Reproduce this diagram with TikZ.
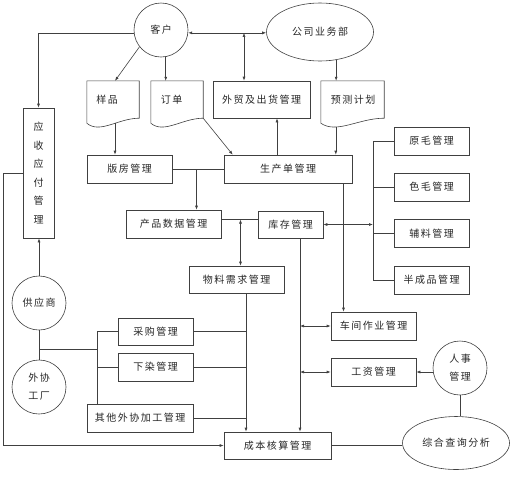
\documentclass[tikz,border=0pt]{standalone}
\usepackage{fontspec}
\newfontfamily\cjk[LetterSpace=15]{Noto Sans CJK SC}
\usetikzlibrary{arrows.meta,calc,shapes.geometric}
\begin{document}
\begin{tikzpicture}[x=1pt,y=-1pt,
  box/.style={draw=black!75, line width=0.6pt, rectangle, inner sep=0pt, font=\cjk\fontsize{10}{18}\selectfont, text=black!85, align=center},
  rbox/.style={box, minimum width=75pt, minimum height=28pt},
  circ/.style={box, circle, minimum size=54pt},
  ell/.style={box, ellipse},
  docbase/.style={rectangle, inner sep=0pt, draw=none},
  txt/.style={font=\cjk\fontsize{10}{12}\selectfont, text=black!85, inner sep=0pt},
  ln/.style={draw=black!75, line width=0.6pt},
  arr/.style={ln, -{Latex[length=4pt,width=3pt]}},
  darr/.style={ln, {Latex[length=4pt,width=3pt]}-{Latex[length=4pt,width=3pt]}}]
\useasboundingbox (0,0) rectangle (510,480);

% nodes
\node[circ] (kh) at (161,30) {客户};
\node[ell, minimum width=107pt, minimum height=58pt] (gs) at (320,32) {公司业务部};
\node[docbase, minimum width=52pt, minimum height=37pt] (yp) at (113,99.5) {};
\node[docbase, minimum width=52pt, minimum height=37pt] (dd) at (177,99.5) {};
\node[docbase, minimum width=63pt, minimum height=37pt] (yc) at (352.5,99.5) {};
\foreach \n in {yp,dd,yc}
  \draw[ln] (\n.north west) -- (\n.north east) -- (\n.south east)
    .. controls ($(\n.south west)!0.6!(\n.south east)$) and ($(\n.south west)!0.25!(\n.south east)+(0,16)$)
    .. ($(\n.south west)+(0,5)$) -- cycle;
\node[txt] at (107,100) {样品};
\node[txt] at (171.5,100) {订单};
\node[txt] at (353,100) {预测计划};

\node[box, minimum width=97pt, minimum height=37pt] (wm) at (261.5,99.5) {外贸及出货管理};
\node[box, minimum width=85pt, minimum height=28pt] (bf) at (129.5,169) {版房管理};
\node[box, minimum width=128pt, minimum height=28pt] (sc) at (288,169) {生产单管理};
\node[rbox] (ym) at (431.5,141) {原毛管理};
\node[rbox] (sm) at (431.5,187) {色毛管理};
\node[rbox] (fl) at (431.5,233.5) {辅料管理};
\node[rbox] (bcp) at (431.5,280) {半成品管理};
\node[box, minimum width=95pt, minimum height=28pt] (cp) at (173.5,224) {产品数据管理};
\node[box, minimum width=65pt, minimum height=27pt] (kc) at (290.5,224.5) {库存管理};
\node[box, minimum width=95pt, minimum height=27pt] (wl) at (236.5,279.5) {物料需求管理};
\node[box, minimum width=85pt, minimum height=28pt] (cj) at (373.5,326) {车间作业管理};
\node[box, minimum width=85pt, minimum height=28pt] (gz) at (373.5,372) {工资管理};
\node[box, minimum width=75pt, minimum height=27pt] (cg) at (155.5,331.5) {采购管理};
\node[box, minimum width=75pt, minimum height=28pt] (xr) at (155.5,367) {下染管理};
\node[box, minimum width=106pt, minimum height=28pt] (qt) at (140,418) {其他外协加工管理};
\node[box, minimum width=107pt, minimum height=27pt] (cb) at (277.5,445.5) {成本核算管理};
\node[box, minimum width=31pt, minimum height=130pt, font=\cjk\fontsize{10}{18.5}\selectfont] (ysyf) at (38.5,173) {应\\收\\应\\付\\管\\理};
\node[circ] (gys) at (39,303) {供应商};
\node[circ] (wx) at (39,387) {外协\\工厂};
\node[circ] (rs) at (460,368) {人事\\管理};
\node[ell, minimum width=107pt, minimum height=53pt] (zh) at (456,443) {综合查询分析};

% helper coordinates
\coordinate (v1) at (244,0);
\coordinate (yb) at ($(yp.south)+(2,5)$);
\coordinate (ycb) at ($(yc.south west)+(15,9)$);
\coordinate (c1) at ($(sc.north)+(-11,0)$);
\coordinate (c2) at (196.5,169);
\coordinate (c3) at (343.5,0);
\coordinate (c4) at (0,219.5);
\coordinate (c5) at (240.5,219.5);
\coordinate (bus) at (373,0);
\coordinate (c6) at (300,0);
\coordinate (c7) at (246,0);
\coordinate (c8) at (97,349);
\coordinate (c9) at (3,0);

% connectors
\draw[arr] (kh.186) -| (ysyf.north);
\draw[darr] (kh.-6) -- (kh.-6 -| gs.west);
\draw[darr] (kh.-6 -| v1) -- (wm.north -| v1);
\draw[arr] (kh.218) -- ($(yp.north)+(2,0)$);
\draw[arr] (kh.-80) -- (kh.-80 |- dd.north);
\draw[arr] (dd.south east) -- ($(sc.north west)+(9,0)$);
\draw[arr] (yb) -- (yb |- bf.north);
\draw[arr] (gs.-60) -- (gs.-60 |- yc.north);
\draw[arr] (ycb) -- (ycb |- sc.north);
\draw[arr] (c1) -- (c1 |- wm.south);
\draw[ln] (bf.east) -- (sc.west);
\draw[arr] (c2) -- (c2 |- cp.north);
\draw[arr] (sc.south -| c3) -- (cj.north -| c3);
\draw[ln] (cp.east |- c4) -- (kc.west |- c4);
\draw[darr] (c5) -- (c5 |- wl.north);
\draw[ln] (ym.west -| bus) -- (bcp.west -| bus);
\foreach \n in {ym,sm,fl,bcp} \draw[ln] (\n.west -| bus) -- (\n.west);
\draw[darr] (kc.east) -- (kc.east -| bus);
\draw[arr] (kc.south -| c6) -- (cb.north -| c6);
\draw[darr] (cj.west -| c6) -- (cj.west);
\draw[darr] (gz.west -| c6) -- (gz.west);
\draw[arr] (wl.south -| c7) -- (cb.north -| c7);
\foreach \n in {cg,xr,qt} \draw[ln] (\n.east) -- (\n.east -| c7);
\draw[arr] (gys.north) -- (gys.north |- ysyf.south);
\draw[ln] (gys.south) -- (wx.north);
\draw[ln] (gys.south |- c8) -- (c8);
\draw[ln] (cg.west) -| (c8 |- qt.north);
\draw[ln] (xr.west) -- (xr.west -| c8);
\draw[arr] (ysyf.west) -- (ysyf.west -| c9) |- (cb.west);
\draw[arr] (rs.west |- gz.east) -- (gz.east);
\draw[ln] (rs.south) -- (rs.south |- zh.north);
\draw[ln] (cb.east) -- (cb.east -| zh.west);
\end{tikzpicture}
\end{document}
